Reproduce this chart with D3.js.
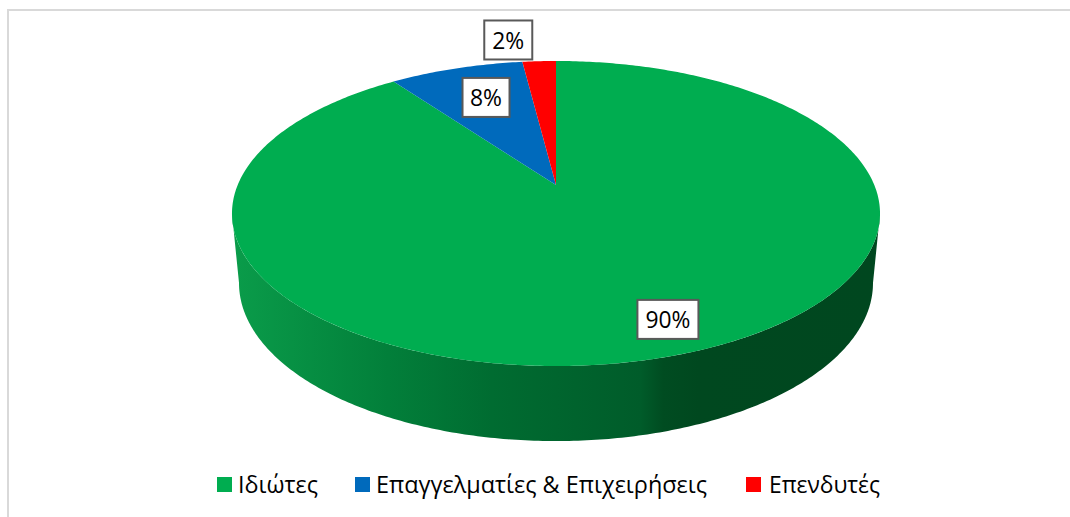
<!DOCTYPE html>
<html>
<head>
<meta charset="utf-8">
<script src="https://cdn.jsdelivr.net/npm/d3@7"></script>
<style>
html,body{margin:0;padding:0;background:#fff;overflow:hidden}
text{font-family:"Open Sans","Noto Sans",sans-serif;fill:#000}
</style>
</head>
<body>
<svg id="c" width="1070" height="517"></svg>
<script>
const categories = ["Ιδιώτες", "Επαγγελματίες & Επιχειρήσεις", "Επενδυτές"];
const values = [90, 8, 2];
const colors = ["#00AD50", "#006ABC", "#FF0000"];
const legendSwatchX = [217, 355, 746];
const legendTextX = [238, 376, 769];
const legendTextW = [80, 331, 111];
const labelRadius = [0.82, 0.72, 1.21];
const labelShift = [17.5, 5, -28];
const labelTextW = [45, 32, 32];
const labelBoxW = [63, 49, 50];
const wallOffsets = [0, 0.24, 0.40, 0.63, 0.665, 0.72, 1];
const wallColors = ["#0A9C4A", "#027F3A", "#006C31", "#005C2A", "#004C21", "#00481F", "#00471F"];

const svg = d3.select("#c");
const cx = 556, k = 0.187;
const faces = [
  { a: 318.3, b: 147.2, y0: 185 },   // top face
  { a: 311.4, b: 152.5, y0: 253.5 }  // base outline
];

// perspective projection of a unit disc point
function project(t, r, level) {
  const u = r * Math.sin(t), v = r * Math.cos(t), f = faces[level];
  const d = 1 + k * v;
  return [cx + f.a * u / d, f.y0 - f.b * v / d];
}
const line = d3.line();

// chart frame
svg.append("path").attr("d", "M8,517V10H1070").attr("fill", "none")
   .attr("stroke", "#d9d9d9").attr("stroke-width", 2);

// side wall
const grad = svg.append("defs").append("linearGradient").attr("id", "wall")
  .attr("gradientUnits", "userSpaceOnUse").attr("x1", 233).attr("x2", 880).attr("y1", 0).attr("y2", 0);
wallOffsets.forEach((o, i) => grad.append("stop").attr("offset", o).attr("stop-color", wallColors[i]));
const tRight = Math.PI / 2 + Math.asin(k), tLeft = 2 * Math.PI - tRight;
const rim = d3.range(0, 241).map(i => tRight + (tLeft - tRight) * i / 240);
const wallPts = rim.map(t => project(t, 1, 0)).concat(rim.slice().reverse().map(t => project(t, 1, 1)));
svg.append("path").attr("d", line(wallPts) + "Z").attr("fill", "url(#wall)");

// top face
const arcs = d3.pie().sort(null).startAngle(0).endAngle(2 * Math.PI)(values);
svg.append("g").selectAll("path").data(arcs).join("path")
  .attr("d", d => {
    const n = Math.max(4, Math.ceil((d.endAngle - d.startAngle) * 80));
    const pts = [project(0, 0, 0)];
    for (let i = 0; i <= n; i++) pts.push(project(d.startAngle + (d.endAngle - d.startAngle) * i / n, 1, 0));
    return line(pts) + "Z";
  })
  .attr("fill", (d, i) => colors[i]);

// data labels
const boxH = 41;
const labels = svg.append("g").selectAll("g").data(arcs).join("g")
  .attr("transform", (d, i) => {
    const p = project((d.startAngle + d.endAngle) / 2, labelRadius[i], 0);
    return `translate(${p[0] + labelShift[i]},${p[1]})`;
  });
labels.append("rect")
  .attr("x", (d, i) => -labelBoxW[i] / 2 + 1).attr("y", -boxH / 2 + 1)
  .attr("width", (d, i) => labelBoxW[i] - 2).attr("height", boxH - 2)
  .attr("fill", "#fff").attr("stroke", "#595959").attr("stroke-width", 2);
labels.append("text").attr("text-anchor", "middle").attr("y", 9).attr("font-size", 24)
  .attr("textLength", (d, i) => labelTextW[i]).attr("lengthAdjust", "spacingAndGlyphs")
  .text(d => d.value + "%");

// legend
const legend = svg.append("g").selectAll("g").data(categories).join("g");
legend.append("rect").attr("x", (d, i) => legendSwatchX[i]).attr("y", 477)
  .attr("width", 15).attr("height", 15).attr("fill", (d, i) => colors[i]);
legend.append("text").attr("x", (d, i) => legendTextX[i]).attr("y", 493).attr("font-size", 24)
  .attr("textLength", (d, i) => legendTextW[i]).attr("lengthAdjust", "spacingAndGlyphs")
  .text(d => d);
</script>
</body>
</html>
